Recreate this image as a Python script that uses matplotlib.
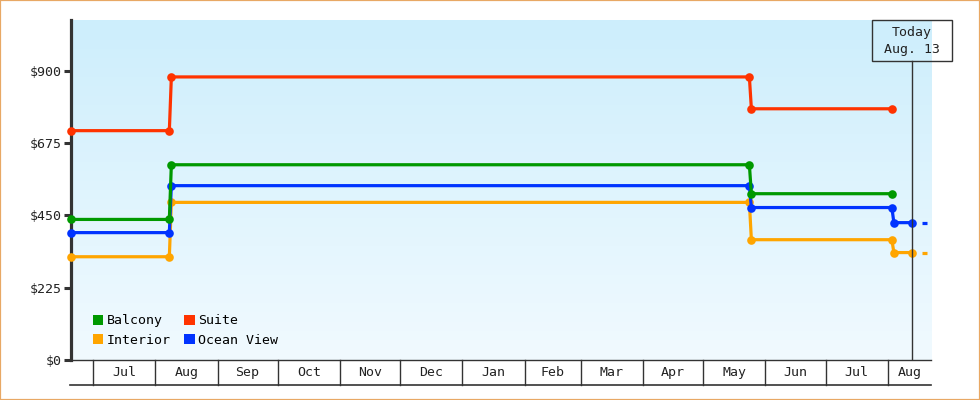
import numpy as np
import matplotlib
matplotlib.use("Agg")
import matplotlib.pyplot as plt
import matplotlib.dates as mdates
from matplotlib.patches import Rectangle, Patch
from matplotlib.transforms import blended_transform_factory
import datetime as dt

plt.rcParams['font.family'] = ['DejaVu Sans Mono', 'DejaVu Sans']
plt.rcParams['lines.scale_dashes'] = False

# ---------------- data ----------------
series_names = ['Interior', 'Ocean View', 'Balcony', 'Suite']
series_colors = {'Balcony': '#009900', 'Suite': '#ff3300',
                 'Interior': '#ffa500', 'Ocean View': '#0033ff'}

dates_short = ['2012-06-20', '2012-08-08', '2012-08-09', '2013-05-24', '2013-05-25', '2013-08-03']
dates_long = ['2012-06-20', '2012-08-08', '2012-08-09', '2013-05-24', '2013-05-25', '2013-08-03',
              '2013-08-04', '2013-08-13']

balcony = [437, 437, 607, 607, 517, 517]
suite = [713, 713, 880, 880, 781, 781]
ocean_view = [396, 396, 542, 542, 474, 474, 427, 427]
interior = [321, 321, 490, 490, 374, 374, 334, 334]

series_dates = {'Balcony': dates_short, 'Suite': dates_short,
                'Interior': dates_long, 'Ocean View': dates_long}
series_values = {'Balcony': balcony, 'Suite': suite,
                 'Interior': interior, 'Ocean View': ocean_view}
projected = ['Interior', 'Ocean View']

y_ticks = [0, 225, 450, 675, 900]
y_tick_labels = ['$0', '$225', '$450', '$675', '$900']
y_max = 1057

x_start = dt.datetime(2012, 6, 20)
x_end = dt.datetime(2013, 8, 22, 12)
today = dt.datetime(2013, 8, 13)
today_label = ['Today', 'Aug. 13']
months = [dt.datetime(2012, 6, 1)] + [dt.datetime(2012 + (6 + i) // 12, (6 + i) % 12 + 1, 1) for i in range(15)]

legend_order = ['Balcony', 'Interior', 'Suite', 'Ocean View']

# ---------------- figure ----------------
W, H = 980, 400
fig = plt.figure(figsize=(W / 100, H / 100), dpi=100)
ax_l, ax_r, ax_t, ax_b = 71, 931, 20, 360
ax = fig.add_axes([ax_l / W, 1 - ax_b / H, (ax_r - ax_l) / W, (ax_b - ax_t) / H])

# gradient background
grad = np.linspace(0, 1, 256).reshape(-1, 1)
top = np.array([205, 238, 252]) / 255
bot = np.array([241, 250, 255]) / 255
img = top[None, None, :] * (1 - grad[:, :, None]) + bot[None, None, :] * grad[:, :, None]
ax.imshow(img, extent=[0, 1, 0, 1], transform=ax.transAxes, aspect='auto', zorder=0)

dark = '#333333'
lw = 2.3
for name in series_names:
    d = [dt.datetime.strptime(s, '%Y-%m-%d') for s in series_dates[name]]
    v = series_values[name]
    ax.plot(d, v, color=series_colors[name], lw=lw, marker='o', ms=6.2,
            markeredgewidth=0, solid_joinstyle='miter', zorder=3, clip_on=False)
    if name in projected:
        ax.plot([d[-1], x_end], [v[-1], v[-1]], color=series_colors[name], lw=lw,
                linestyle=(3.6, (3.6, 7.2)), dash_capstyle='butt', zorder=3)

ax.set_xlim(x_start, x_end)
ax.set_ylim(0, y_max)

for s in ['top', 'right', 'bottom']:
    ax.spines[s].set_visible(False)
ax.spines['left'].set_linewidth(2.3)
ax.spines['left'].set_color(dark)
ax.spines['left'].set_zorder(2.5)
ax.set_yticks(y_ticks)
ax.set_yticklabels(y_tick_labels)
ax.tick_params(axis='y', length=5, width=2.2, color=dark, labelsize=9.5, labelcolor='#222222', pad=2)
ax.set_xticks([])

# month band below axis
bt = blended_transform_factory(ax.transData, ax.transAxes)
band = 25 / (ax_b - ax_t)
ax.plot([0, 1], [0, 0], transform=ax.transAxes, color=dark, lw=1, clip_on=False, zorder=4)
ax.plot([-1 / (ax_r - ax_l), 1], [-band, -band], transform=ax.transAxes, color=dark, lw=1.2, clip_on=False)
xs = mdates.date2num(x_start)
xe = mdates.date2num(x_end)
for i, m in enumerate(months):
    mn = mdates.date2num(m)
    if xs < mn < xe:
        ax.plot([mn, mn], [0, -band], transform=bt, color=dark, lw=1, clip_on=False)
    nxt = mdates.date2num(months[i + 1]) if i + 1 < len(months) else xe
    a, b = max(mn, xs), min(nxt, xe)
    if b > a and mn >= xs:
        ax.text((a + b) / 2, -band / 2, m.strftime('%b'), transform=bt, ha='center', va='center',
                fontsize=9.5, color='#222222', clip_on=False)

# today marker
tn = mdates.date2num(today)
box_bottom = (ax_b - 60.7) / (ax_b - ax_t)
ax.plot([tn, tn], [0, box_bottom], transform=bt, color=dark, lw=1, zorder=5)
fig.canvas.draw()
tx = ax.transData.transform((tn, 0))[0]
fig.add_artist(Rectangle(((tx - 40) / W, 1 - 60.7 / H), 80 / W, 40.5 / H, transform=fig.transFigure,
                         fill=False, edgecolor=dark, lw=1))
fig.text(tx / W, 1 - 32.5 / H, today_label[0], ha='center', va='center', fontsize=9.5, color='#222222')
fig.text(tx / W, 1 - 49.5 / H, today_label[1], ha='center', va='center', fontsize=9.5, color='#222222')

# legend
handles = [Patch(facecolor=series_colors[n], edgecolor='none', label=n) for n in legend_order]
ax.legend(handles=handles, ncol=2, loc='lower left',
          bbox_to_anchor=((93 - ax_l) / (ax_r - ax_l), (ax_b - 347) / (ax_b - ax_t)),
          frameon=False, fontsize=9.5, handlelength=0.78, handleheight=0.78,
          handletextpad=0.25, columnspacing=1.05, labelspacing=0.5, borderpad=0,
          borderaxespad=0)

# orange border
fig.add_artist(Rectangle((0, 0), 1, 1, transform=fig.transFigure, fill=False,
                         edgecolor='#e8a865', lw=1.6))

fig.savefig('out.png', dpi=100)
